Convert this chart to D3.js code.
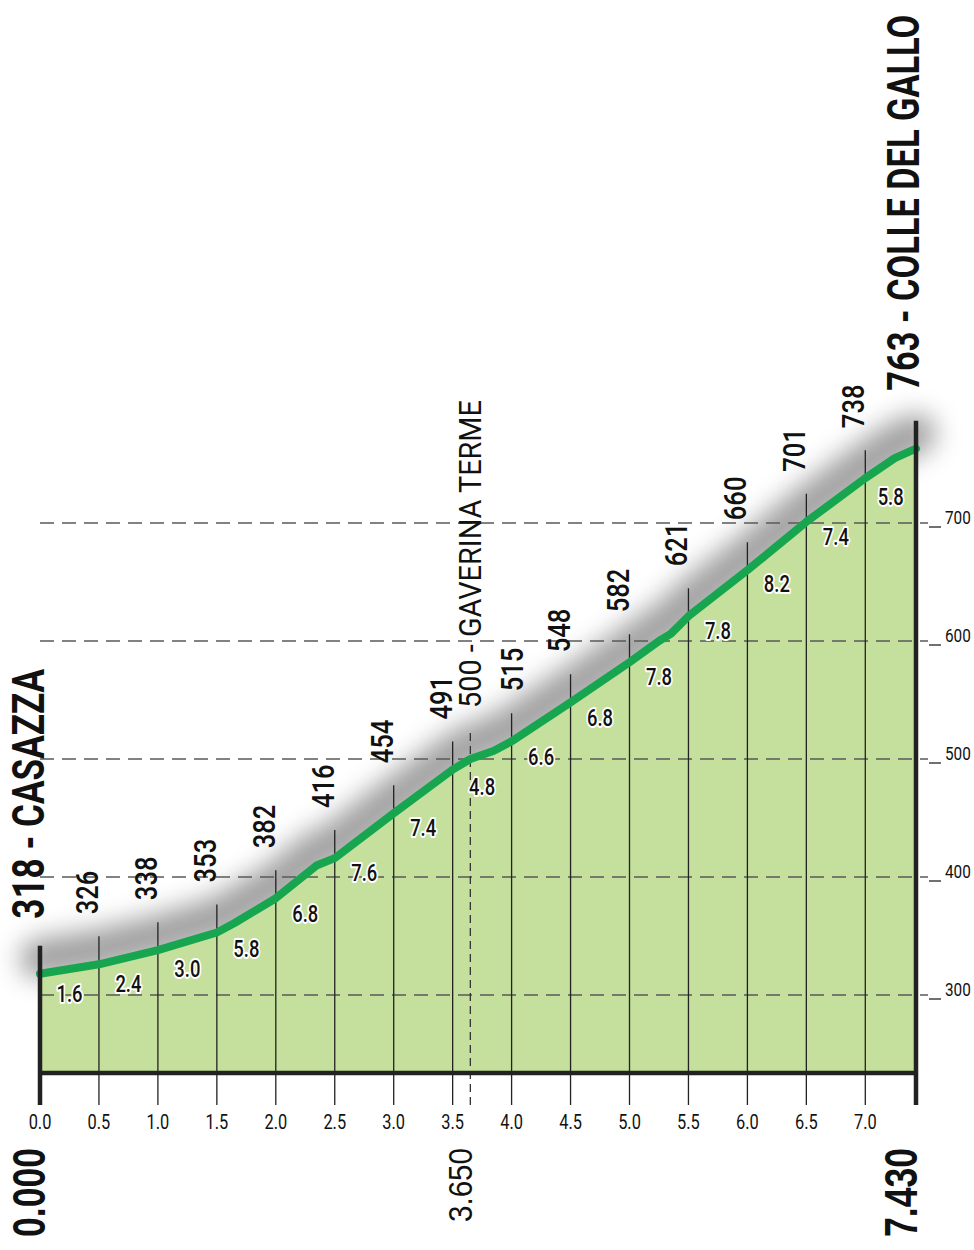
<!DOCTYPE html>
<html>
<head>
<meta charset="utf-8">
<script src="https://cdn.jsdelivr.net/npm/d3@7"></script>
<style>
  body { margin: 0; background: #fff; }
  svg { display: block; }
  text { font-family: Roboto, "Liberation Sans", sans-serif; }
</style>
</head>
<body>
<div id="chart"></div>
<script>
// profile (km, m)
var profileKm   = [0, 0.5, 1.0, 1.5, 1.65, 2.0, 2.35, 2.5, 3.0, 3.5, 3.65, 3.85, 4.0, 4.5, 5.0, 5.25, 5.35, 5.5, 6.0, 6.5, 7.0, 7.25, 7.43];
var profileElev = [318, 326, 338, 353, 361, 382, 410, 416, 454, 491, 500, 507, 515, 548, 582, 600, 606, 621, 660, 701, 738, 755, 763];

// elevation marks every 500 m
var markKm   = [0.5, 1.0, 1.5, 2.0, 2.5, 3.0, 3.5, 4.0, 4.5, 5.0, 5.5, 6.0, 6.5, 7.0];
var markElev = [326, 338, 353, 382, 416, 454, 491, 515, 548, 582, 621, 660, 701, 738];

// gradient (%) of each segment
var segStart = [0, 0.5, 1.0, 1.5, 2.0, 2.5, 3.0, 3.5, 4.0, 4.5, 5.0, 5.5, 6.0, 6.5, 7.0];
var segEnd   = [0.5, 1.0, 1.5, 2.0, 2.5, 3.0, 3.5, 4.0, 4.5, 5.0, 5.5, 6.0, 6.5, 7.0, 7.43];
var segGrade = [1.6, 2.4, 3.0, 5.8, 6.8, 7.6, 7.4, 4.8, 6.6, 6.8, 7.8, 7.8, 8.2, 7.4, 5.8];

var kmTicks   = [0, 0.5, 1.0, 1.5, 2.0, 2.5, 3.0, 3.5, 4.0, 4.5, 5.0, 5.5, 6.0, 6.5, 7.0];
var elevTicks = [300, 400, 500, 600, 700];

var startName = "318 - CASAZZA", endName = "763 - COLLE DEL GALLO";
var midName = "500 - GAVERINA TERME", midKm = 3.65, midElev = 500;
var totalKm = 7.43;

var fullwidth = 974, fullheight = 1250;
var baseY = 1073, tickBottom = 1105;
var narrow = 0.8;   // horizontal squeeze to mimic a condensed face

var svg = d3.select("#chart").append("svg")
    .attr("width", fullwidth)
    .attr("height", fullheight);

var x = d3.scaleLinear().domain([0, totalKm]).range([40, 916]);
var y = d3.scaleLinear().domain([300, 700]).range([995, 523]);

var profile = profileKm.map(function(d, i){ return {km: d, elev: profileElev[i]}; });
function elevAt(km){
    var i = d3.bisector(function(d){return d.km;}).left(profile, km);
    if (i <= 0) return profile[0].elev;
    if (i >= profile.length) return profile[profile.length-1].elev;
    var a = profile[i-1], b = profile[i];
    return a.elev + (b.elev - a.elev) * (km - a.km) / (b.km - a.km);
}

// squeeze a rotated label so that it runs exactly `len` pixels
function fitRotated(sel, px, py, len){
    var w = sel.node().getComputedTextLength();
    sel.attr("transform", "translate(" + px + "," + py + ")rotate(-90)scale(" + (len / w) + ",1)");
}

var defs = svg.append("defs");
defs.append("filter").attr("id", "blur")
    .attr("x", "-20%").attr("y", "-50%").attr("width", "140%").attr("height", "200%")
    .append("feGaussianBlur").attr("stdDeviation", 13);

var line = d3.line().x(function(d){return x(d.km);}).y(function(d){return y(d.elev);});
var area = d3.area().x(function(d){return x(d.km);}).y0(baseY).y1(function(d){return y(d.elev);});

// shadow above the profile
svg.append("path")
    .datum(profile)
    .attr("d", line)
    .attr("transform", "translate(0,-15)")
    .attr("fill", "none")
    .attr("stroke", "#7c7c7c")
    .attr("stroke-width", 40)
    .attr("stroke-linecap", "round")
    .attr("opacity", 0.72)
    .attr("filter", "url(#blur)");

svg.append("path")
    .datum(profile)
    .attr("d", area)
    .attr("fill", "#c5df9d");

// horizontal grid
var grid = svg.append("g").classed("grid", true);
grid.selectAll("line.gl")
    .data(elevTicks)
    .enter().append("line")
    .attr("x1", x(0)).attr("x2", 928)
    .attr("y1", function(d){return y(d);}).attr("y2", function(d){return y(d);})
    .attr("stroke", "#5a5a5a").attr("stroke-width", 1.6)
    .attr("stroke-dasharray", "14,8");
grid.selectAll("line.tk")
    .data(elevTicks)
    .enter().append("line")
    .attr("x1", 929).attr("x2", 941)
    .attr("y1", function(d){return y(d) + 4;}).attr("y2", function(d){return y(d) + 4;})
    .attr("stroke", "#222").attr("stroke-width", 1.3);
grid.selectAll("text")
    .data(elevTicks)
    .enter().append("text")
    .attr("transform", function(d){return "translate(945," + (y(d) + 1) + ")scale(0.85,1)";})
    .style("font-size", "18px")
    .style("fill", "#111")
    .text(function(d){return d;});

// thin verticals every 500 m
svg.selectAll("line.km")
    .data(markKm)
    .enter().append("line")
    .attr("x1", function(d){return x(d);}).attr("x2", function(d){return x(d);})
    .attr("y1", tickBottom)
    .attr("y2", function(d, i){return y(markElev[i]) - 28;})
    .attr("stroke", "#222").attr("stroke-width", 1.3);

// dashed vertical at Gaverina
svg.append("line")
    .attr("x1", x(midKm)).attr("x2", x(midKm))
    .attr("y1", tickBottom).attr("y2", y(midElev) - 28)
    .attr("stroke", "#333").attr("stroke-width", 1.3)
    .attr("stroke-dasharray", "8,5");

// profile line
svg.append("path")
    .datum(profile)
    .attr("d", line)
    .attr("fill", "none")
    .attr("stroke", "#17a64f")
    .attr("stroke-width", 8)
    .attr("stroke-linejoin", "round")
    .attr("stroke-linecap", "round");

// base axis and end posts
svg.append("line")
    .attr("x1", x(0) - 2).attr("x2", x(totalKm) + 2)
    .attr("y1", baseY).attr("y2", baseY)
    .attr("stroke", "#222").attr("stroke-width", 4.5);
svg.append("line")
    .attr("x1", x(0)).attr("x2", x(0))
    .attr("y1", tickBottom).attr("y2", y(profileElev[0]) - 28)
    .attr("stroke", "#222").attr("stroke-width", 4.5);
svg.append("line")
    .attr("x1", x(totalKm)).attr("x2", x(totalKm))
    .attr("y1", tickBottom).attr("y2", y(profileElev[profileElev.length-1]) - 28)
    .attr("stroke", "#222").attr("stroke-width", 4.5);

// km tick labels
svg.append("g").selectAll("text")
    .data(kmTicks)
    .enter().append("text")
    .attr("transform", function(d){return "translate(" + x(d) + ",1129)scale(0.82,1)";})
    .style("text-anchor", "middle")
    .style("font-size", "20px")
    .style("fill", "#111")
    .text(function(d){return d.toFixed(1);});

// gradient labels
svg.append("g").selectAll("text")
    .data(segGrade)
    .enter().append("text")
    .attr("transform", function(d, i){
        var mid = (elevAt(segStart[i]) + elevAt(segEnd[i])) / 2;
        var px = x((segStart[i] + segEnd[i]) / 2);
        var py = y(mid) + 22 + 2 * d + 8;
        return "translate(" + px + "," + py + ")scale(" + narrow + ",1)";
    })
    .style("text-anchor", "middle")
    .style("font-size", "23px")
    .style("font-weight", 500)
    .style("fill", "#111")
    .style("stroke", "#fff")
    .style("stroke-width", 4)
    .style("paint-order", "stroke")
    .style("stroke-linejoin", "round")
    .text(function(d){return d.toFixed(1);});

// elevation labels on verticals (rotated)
svg.append("g").selectAll("text")
    .data(markElev)
    .enter().append("text")
    .attr("transform", function(d, i){
        var px = x(markKm[i]) - 1;
        if (markKm[i] > midKm && markKm[i] - midKm < 0.4) px += 12;
        return "translate(" + px + "," + (y(d) - 50) + ")rotate(-90)scale(" + narrow + ",1)";
    })
    .style("font-size", "32px")
    .style("font-weight", 500)
    .style("fill", "#111")
    .text(function(d){return d;});

var midLabel = svg.append("text")
    .style("font-size", "32px")
    .style("fill", "#111")
    .text(midName);
fitRotated(midLabel, x(midKm) + 11, y(midElev) - 51, 308);

// start / end names
var startLabel = svg.append("text")
    .style("font-size", "45px")
    .style("font-weight", "bold")
    .style("fill", "#111")
    .text(startName);
fitRotated(startLabel, x(0) + 4, y(profileElev[0]) - 55, 250);

var endLabel = svg.append("text")
    .style("font-size", "44px")
    .style("font-weight", "bold")
    .style("fill", "#111")
    .text(endName);
fitRotated(endLabel, x(totalKm) + 3, y(profileElev[profileElev.length-1]) - 58, 376);

// distance labels under the axis
var distLabels = [0, midKm, totalKm];
svg.append("g").selectAll("text")
    .data(distLabels)
    .enter().append("text")
    .style("text-anchor", "end")
    .style("font-family", "'Liberation Sans', Arial, sans-serif")
    .style("font-weight", function(d){return d === midKm ? "normal" : "bold";})
    .style("font-size", function(d){return d === midKm ? "33px" : "46px";})
    .style("fill", "#111")
    .text(function(d){return d.toFixed(3);})
    .each(function(d){
        var dx = d === 0 ? 5 : (d === totalKm ? 1 : 2);
        fitRotated(d3.select(this), x(d) + dx, 1148, d === midKm ? 74 : 89);
    });
</script>
</body>
</html>
